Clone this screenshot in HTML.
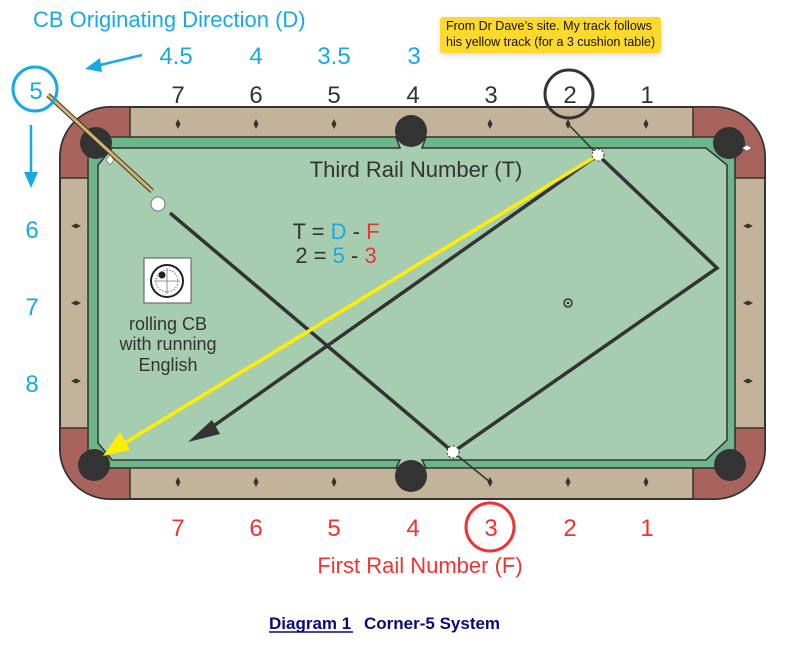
<!DOCTYPE html>
<html><head><meta charset="utf-8"><style>
body{margin:0;background:#fff;width:812px;height:650px;overflow:hidden;font-family:"Liberation Sans",sans-serif}
svg{position:absolute;left:0;top:0}
.note{position:absolute;left:440px;top:17px;height:34px;background:#fcd92c;border-radius:3px;font-size:12.5px;line-height:16px;padding:1px 6px;color:#111;white-space:nowrap;box-shadow:0 2px 6px rgba(0,0,0,0.15)}
</style></head><body>
<svg width="812" height="650" viewBox="0 0 812 650" font-family="Liberation Sans, sans-serif">
<defs><path id="d" d="M0 -5 L2.5 0 L0 5 L-2.5 0Z"/></defs>
<rect x="60" y="107" width="705" height="392" rx="50" fill="#c2b39a" stroke="#333" stroke-width="2"/>
<path d="M60 178 V157 A50 50 0 0 1 110 107 H130 V138 H97 V178 Z" fill="#a8645c" stroke="#333" stroke-width="1.5"/>
<path d="M60 428 V449 A50 50 0 0 0 110 499 H130 V468 H97 V428 Z" fill="#a8645c" stroke="#333" stroke-width="1.5"/>
<path d="M765 178 V157 A50 50 0 0 0 715 107 H693 V138 H735 V178 Z" fill="#a8645c" stroke="#333" stroke-width="1.5"/>
<path d="M765 428 V449 A50 50 0 0 1 715 499 H693 V468 H735 V428 Z" fill="#a8645c" stroke="#333" stroke-width="1.5"/>
<rect x="88" y="137" width="647" height="331" fill="#6db68a" stroke="#333" stroke-width="1.5"/>
<polygon points="112,148 400,148 396,137 426,137 422,148 706,148 727,165 727,440 706,460 422,460 426,468 396,468 400,460 112,460 98,443 98,165" fill="#a6cdb0" stroke="#333" stroke-width="1.5"/>
<g fill="#333"><circle cx="96" cy="143" r="16"/><circle cx="411" cy="131" r="16"/><circle cx="411" cy="476" r="16"/><circle cx="94" cy="465" r="16"/><circle cx="729" cy="143" r="16"/><circle cx="730" cy="465" r="16"/></g>
<g fill="#333">
<use href="#d" x="178" y="124"/><use href="#d" x="256" y="124"/><use href="#d" x="334" y="124"/><use href="#d" x="490" y="124"/><use href="#d" x="568" y="124"/><use href="#d" x="646" y="124"/>
<use href="#d" x="178" y="482"/><use href="#d" x="256" y="482"/><use href="#d" x="334" y="482"/><use href="#d" x="490" y="482"/><use href="#d" x="568" y="482"/><use href="#d" x="646" y="482"/>
<path d="M71 226 L76 223.5 L81 226 L76 228.5Z M71 303 L76 300.5 L81 303 L76 305.5Z M71 381 L76 378.5 L81 381 L76 383.5Z"/>
<path d="M743 226 L748 223.5 L753 226 L748 228.5Z M743 303 L748 300.5 L753 303 L748 305.5Z M743 381 L748 378.5 L753 381 L748 383.5Z"/>
</g>
<path d="M170 213 L453 452 L717 268 L598 155 L205 432" fill="none" stroke="#333" stroke-width="3.5"/>
<path d="M453 452 L490 482 M598 155 L568 124" stroke="#333" stroke-width="1.5"/>
<polygon points="188,442 220,434 212,420" fill="#333"/>
<line x1="598" y1="155" x2="118" y2="447" stroke="#ffee00" stroke-width="3.5"/>
<polygon points="103,456 130,450 120,432" fill="#ffee00"/>
<circle cx="453" cy="452" r="6" fill="#fff" stroke="#333" stroke-dasharray="2 2"/>
<circle cx="598" cy="155" r="6" fill="#fff" stroke="#333" stroke-dasharray="2 2"/>
<circle cx="568" cy="303" r="4" fill="none" stroke="#333" stroke-width="1.5"/><circle cx="568" cy="303" r="1.3" fill="#333"/>
<line x1="48" y1="95" x2="152" y2="191" stroke="#333" stroke-width="5"/>
<line x1="48" y1="95" x2="152" y2="191" stroke="#d4b36a" stroke-width="3"/>
<circle cx="158" cy="204" r="7" fill="#fff" stroke="#777"/>
<polygon points="110,155 114,160 110,165 106,160" fill="#fff" stroke="#555" stroke-width=".6"/>
<polygon points="747,145 752,148 747,151 742,148" fill="#fff" stroke="#555" stroke-width=".6"/>
<rect x="144" y="258" width="47" height="45" fill="#fff" stroke="#555"/>
<circle cx="167" cy="281" r="16" fill="none" stroke="#222" stroke-width="2"/>
<circle cx="167" cy="281" r="11" fill="none" stroke="#777" stroke-dasharray="1.5 1.5"/>
<path d="M167 268 V294 M154 281 H180" stroke="#777" stroke-width=".8"/>
<circle cx="162" cy="275" r="3.5" fill="#222"/>
<g fill="#333" font-size="18" text-anchor="middle"><text x="168" y="330">rolling CB</text><text x="168" y="350">with running</text><text x="168" y="371">English</text></g>
<text x="416" y="177" font-size="22" fill="#333" text-anchor="middle">Third Rail Number (T)</text>
<text x="336" y="239" font-size="22" text-anchor="middle" fill="#333">T = <tspan fill="#19a8e6">D</tspan> - <tspan fill="#e33">F</tspan></text>
<text x="336" y="263" font-size="22" text-anchor="middle" fill="#333">2 = <tspan fill="#19a8e6">5</tspan> - <tspan fill="#e33">3</tspan></text>
<g font-size="24" fill="#333" text-anchor="middle"><text x="178" y="103">7</text><text x="256" y="103">6</text><text x="334" y="103">5</text><text x="413" y="103">4</text><text x="491" y="103">3</text><text x="570" y="103">2</text><text x="647" y="103">1</text></g>
<circle cx="569" cy="94" r="24" fill="none" stroke="#333" stroke-width="3"/>
<g font-size="24" fill="#e33" text-anchor="middle"><text x="178" y="536">7</text><text x="256" y="536">6</text><text x="334" y="536">5</text><text x="413" y="536">4</text><text x="491" y="536">3</text><text x="570" y="536">2</text><text x="647" y="536">1</text></g>
<circle cx="490" cy="527" r="24" fill="none" stroke="#e33" stroke-width="3"/>
<text x="420" y="573" font-size="22" fill="#e33" text-anchor="middle">First Rail Number (F)</text>
<g fill="#19a8e6" font-size="24">
<text x="33" y="27" font-size="22">CB Originating Direction (D)</text>
<text x="176" y="64" text-anchor="middle">4.5</text><text x="256" y="64" text-anchor="middle">4</text><text x="334" y="64" text-anchor="middle">3.5</text><text x="414" y="64" text-anchor="middle">3</text>
<text x="36" y="99" text-anchor="middle">5</text>
<text x="32" y="238" text-anchor="middle">6</text><text x="32" y="315" text-anchor="middle">7</text><text x="32" y="392" text-anchor="middle">8</text>
</g>
<circle cx="35" cy="89" r="22" fill="none" stroke="#19a8e6" stroke-width="3"/>
<path d="M142 55 L96 66" stroke="#19a8e6" stroke-width="2.5"/><polygon points="85,69 100,58 102,72" fill="#19a8e6"/>
<path d="M31 125 V175" stroke="#19a8e6" stroke-width="2.5"/><polygon points="31,188 24,172 38,172" fill="#19a8e6"/>
<text x="269" y="629" font-size="17" font-weight="bold" fill="#0a0a80">Diagram 1</text>
<line x1="269" y1="632" x2="353" y2="632" stroke="#0a0a80" stroke-width="1.5"/>
<text x="364" y="629" font-size="17" font-weight="bold" fill="#0a0a80">Corner-5 System</text>
</svg>
<div class="note">From Dr Dave’s site. My track follows<br>his yellow track (for a 3 cushion table)</div>
</body></html>
